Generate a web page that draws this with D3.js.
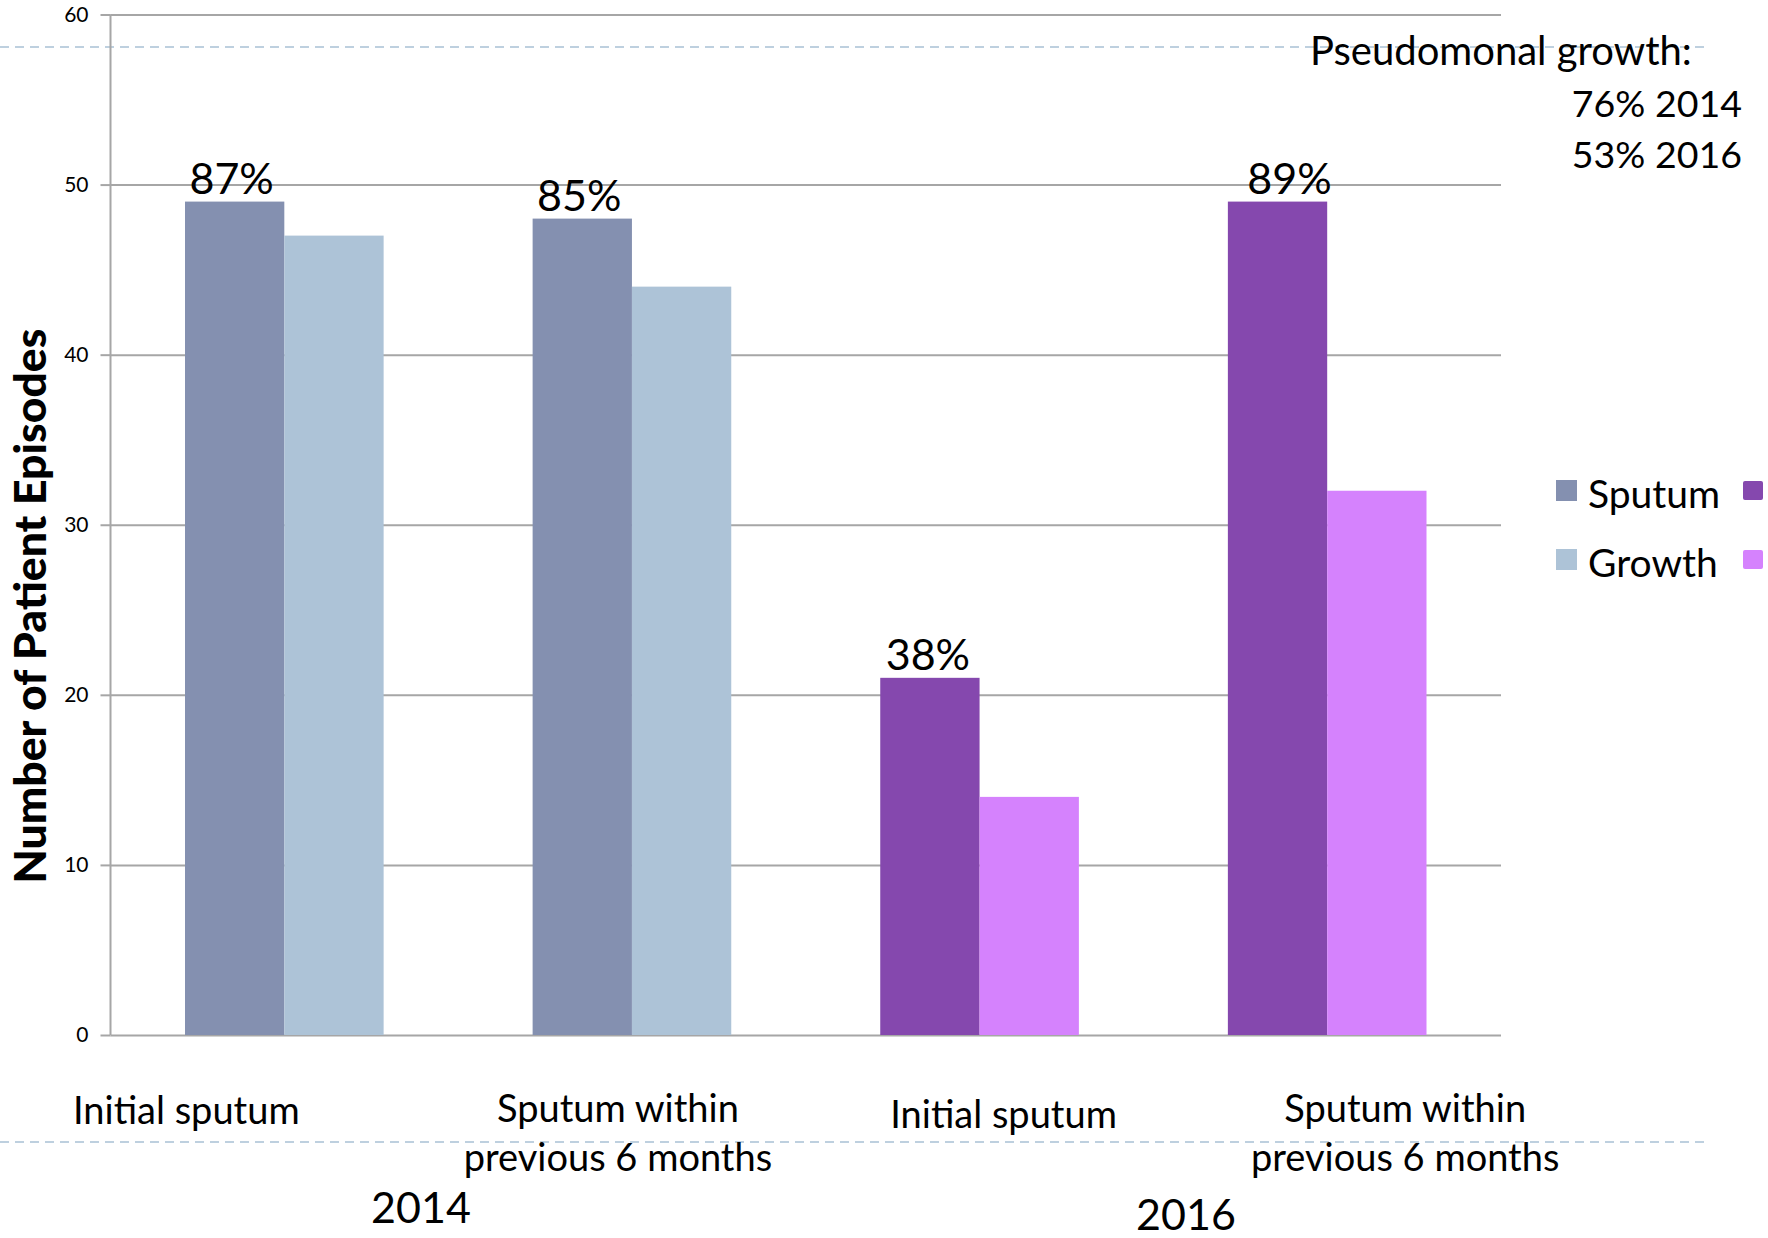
<!DOCTYPE html>
<html>
<head>
<meta charset="utf-8">
<script src="https://cdn.jsdelivr.net/npm/d3@7"></script>
<style>
  html, body { margin: 0; padding: 0; background: #fff; }
  svg { display: block; font-family: Lato, "Open Sans", sans-serif; }
</style>
</head>
<body>
<svg id="chart" width="1768" height="1238"></svg>
<script>
// Pseudomonal sputum sampling, 2014 vs 2016
const categories = ["Initial sputum", "Sputum within|previous 6 months", "Initial sputum", "Sputum within|previous 6 months"];
const categoryYear = ["2014", "2014", "2016", "2016"];
const years = ["2014", "2016"];
const seriesNames = ["Sputum", "Growth"];
const sputumValues = [49, 48, 21, 49];
const growthValues = [47, 44, 14, 32];
const sputumPercent = ["87%", "85%", "38%", "89%"];
const yTicks = [0, 10, 20, 30, 40, 50, 60];
const noteLines = ["Pseudomonal growth:", "76% 2014", "53% 2016"];

// palette per year: [sputum, growth]
const palette = {
  "2014": ["#8490b0", "#adc3d7"],
  "2016": ["#8548ae", "#d582fd"]
};

// free-placed label nudges (px)
const labelShift = [-98, -14, 24, 78];
const pctShift = [-3, -3, -2, 12];
const yearLabelX = { "2014": 421, "2016": 1186 };
const yearLabelY = { "2014": 1223, "2016": 1230 };

const svg = d3.select("#chart");
const margin = { left: 110.5, right: 1501, top: 14.5, bottom: 1035 };

const x = d3.scaleBand()
  .domain(d3.range(categories.length))
  .range([margin.left, margin.right])
  .paddingInner(0.4286)
  .paddingOuter(0.2143);

const xs = d3.scaleBand().domain(seriesNames).range([0, x.bandwidth()]);

const y = d3.scaleLinear().domain([0, 60]).range([margin.bottom, margin.top]);

// dashed guide lines
svg.append("g").selectAll("line")
  .data([47, 1142])
  .join("line")
  .attr("x1", 0).attr("x2", 1704)
  .attr("y1", d => d).attr("y2", d => d)
  .attr("stroke", "#a9c1d5")
  .attr("stroke-width", 1.6)
  .attr("stroke-dasharray", "9,6");

// gridlines + y axis
const yAxis = d3.axisLeft(y).tickValues(yTicks).tickSize(-(margin.right - margin.left)).tickPadding(14).tickFormat(d3.format("d"));
const gy = svg.append("g").attr("transform", `translate(${margin.left},0)`).call(yAxis);
gy.select(".domain").remove();
gy.selectAll(".tick line").attr("stroke", "#a6a6a6").attr("stroke-width", 2);
gy.selectAll(".tick text").attr("font-size", 21).attr("fill", "#000").attr("font-family", "Lato, sans-serif").attr("x", -22);
// short outer tick marks
gy.selectAll(".tick").append("line")
  .attr("x1", -10).attr("x2", 0)
  .attr("stroke", "#a6a6a6").attr("stroke-width", 2);
// vertical axis line
svg.append("line")
  .attr("x1", margin.left).attr("x2", margin.left)
  .attr("y1", y(60)).attr("y2", y(0))
  .attr("stroke", "#a6a6a6").attr("stroke-width", 2);

// bars
const rows = categories.map((c, i) => ({
  i, year: categoryYear[i],
  values: [sputumValues[i], growthValues[i]]
}));

const groups = svg.append("g").selectAll("g")
  .data(rows)
  .join("g")
  .attr("transform", d => `translate(${x(d.i)},0)`);

groups.selectAll("rect")
  .data(d => d.values.map((v, k) => ({ v, k, year: d.year })))
  .join("rect")
  .attr("x", d => xs(seriesNames[d.k]))
  .attr("width", xs.bandwidth())
  .attr("y", d => y(d.v))
  .attr("height", d => y(0) - y(d.v))
  .attr("fill", d => palette[d.year][d.k]);

// percentage labels above sputum bars
groups.append("text")
  .attr("x", d => xs("Sputum") + xs.bandwidth() / 2 + pctShift[d.i])
  .attr("y", d => y(d.values[0]) - 8)
  .attr("text-anchor", "middle")
  .attr("font-size", 43)
  .text(d => sputumPercent[d.i]);

// category labels
const catLabels = svg.append("g").selectAll("text")
  .data(rows)
  .join("text")
  .attr("text-anchor", "middle")
  .attr("font-size", 38)
  .attr("transform", d => `translate(${x(d.i) + x.bandwidth() / 2 + labelShift[d.i]},0)`);
catLabels.each(function (d) {
  const lines = categories[d.i].split("|");
  const base = lines.length === 1 ? (d.i < 2 ? 1124 : 1128) : 1122;
  d3.select(this).selectAll("tspan")
    .data(lines)
    .join("tspan")
    .attr("x", 0)
    .attr("y", (t, j) => base + j * 49)
    .text(t => t);
});

// year labels
svg.append("g").selectAll("text")
  .data(years)
  .join("text")
  .attr("x", d => yearLabelX[d])
  .attr("y", d => yearLabelY[d])
  .attr("text-anchor", "middle")
  .attr("font-size", 43)
  .text(d => d);

// y axis title
svg.append("text")
  .attr("transform", `translate(46,606) rotate(-90)`)
  .attr("text-anchor", "middle")
  .attr("font-weight", 900)
  .attr("font-size", 44.5)
  .text("Number of Patient Episodes");

// note at top right
svg.append("text")
  .attr("x", 1310).attr("y", 65)
  .attr("font-size", 40)
  .text(noteLines[0]);
svg.append("g").selectAll("text")
  .data(noteLines.slice(1))
  .join("text")
  .attr("x", 1742)
  .attr("y", (d, i) => 117 + i * 51)
  .attr("text-anchor", "end")
  .attr("font-size", 37.5)
  .text(d => d);

// legend: 2014 swatches with names, 2016 swatches on the right
const legend = svg.append("g");
seriesNames.forEach((name, k) => {
  const top = k === 0 ? 480 : 549;
  legend.append("rect")
    .attr("x", 1556).attr("y", top).attr("width", 21).attr("height", 21)
    .attr("fill", palette["2014"][k]);
  legend.append("text")
    .attr("x", 1588).attr("y", top + 28)
    .attr("font-size", 39)
    .text(name);
  legend.append("rect")
    .attr("x", 1743).attr("y", top + 1).attr("width", 20).attr("height", 19)
    .attr("rx", 2)
    .attr("fill", palette["2016"][k]);
});
</script>
</body>
</html>
